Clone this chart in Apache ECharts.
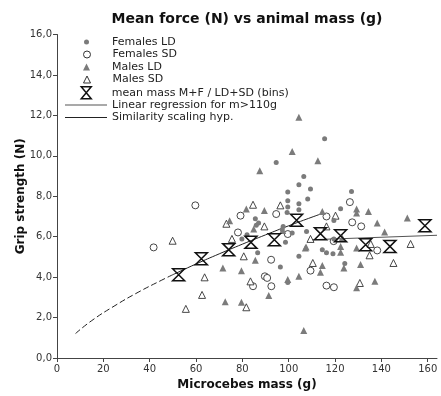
<!DOCTYPE html>
<html><head><meta charset="utf-8">
<script src="https://cdn.jsdelivr.net/npm/echarts@6/dist/echarts.min.js"></script>
<style>html,body{margin:0;padding:0;background:#fff}#c{width:441px;height:396px}</style>
</head><body><div id="c"></div>
<script>
const titleText = 'Mean force (N) vs animal mass (g)';
const xName = 'Microcebes mass (g)';
const yName = 'Grip strength (N)';
const xTicks = [0, 20, 40, 60, 80, 100, 120, 140, 160];
const yTicks = [0, 2, 4, 6, 8, 10, 12, 14, 16];

const femalesLD = [[94.6,9.67],[106.5,8.98],[104.4,8.57],[99.6,8.21],[99.6,7.78],[104.4,7.63],[99.6,7.47],[104.4,7.33],[99.3,7.2],
  [85.6,6.89],[87,6.68],[86,6.56],[97.6,6.51],[97.2,6.35],[101.5,6.18],[82,6.1],[79.8,5.89],[98.6,5.72],[86.6,5.2],[104.4,5.03],
  [96.4,4.5],[99.6,3.74],[115.5,10.84],[109.4,8.36],[108.2,7.86],[127.1,8.24],[122.4,7.38],[119.5,6.8],[107.7,6.26],[119.5,5.89],
  [114.5,5.36],[116.3,5.2],[119.1,5.15],[124.2,4.67]];
const femalesSD = [[59.7,7.55],[79.2,7.04],[41.7,5.47],[78.1,6.21],[94.6,7.12],[99.6,6.13],[92.4,4.86],[89.7,4.04],[90.7,3.96],
  [84.6,3.55],[92.5,3.55],[126.4,7.71],[116.3,7.0],[127.4,6.71],[131.3,6.51],[119.4,5.78],[109.4,4.32],[116.3,3.58],[119.5,3.5],[138.2,5.32]];
const malesLD = [[74.5,6.79],[71.6,4.45],[72.6,2.78],[104.4,11.91],[101.5,10.21],[87.5,9.26],[81.7,7.37],[89.5,7.3],[84.9,6.38],
  [97.4,6.3],[107.2,5.44],[85.6,4.83],[79.6,4.32],[104.4,4.04],[99.6,3.88],[91.4,3.09],[79.6,2.76],[106.5,1.36],[112.6,9.75],
  [129.3,7.37],[129.3,7.17],[134.4,7.25],[114.5,7.25],[123.1,5.94],[122.4,5.52],[107.5,5.49],[129.3,5.44],[122.4,5.23],[114.5,4.57],
  [123.8,4.45],[131,4.62],[113.7,4.24],[129.3,3.47],[138.2,6.68],[151.2,6.92],[141.4,6.23],[137.2,3.79]];
const malesSD = [[73.1,6.64],[49.9,5.8],[75.5,5.89],[63.7,3.99],[62.6,3.12],[55.6,2.43],[84.6,7.58],[96.4,7.55],[89.5,6.51],
  [80.6,5.03],[83.5,3.79],[81.7,2.51],[120.2,7.04],[116.3,6.51],[109.4,5.89],[110.4,4.7],[130.7,3.71],[135.4,5.64],[134.9,5.08],
  [152.6,5.64],[145.2,4.7]];
const meanBins = [[52.5,4.12],[62.3,4.91],[74.1,5.36],[83.7,5.72],[93.8,5.85],[103.4,6.81],[113.7,6.15],[122.4,6.05],[133.2,5.6],
  [143.7,5.52],[158.8,6.54]];
const regression = [[110,5.85],[164,6.07]];
const similarityDashed = [[8,1.21],[15,1.85],[25,2.59],[35,3.25],[45,3.84],[50,4.12]];
const similaritySolid = [[50,4.12],[60,4.65],[70,5.15],[80,5.63],[90,6.09],[100,6.54],[114,7.13]];

const names = ['Females LD','Females SD','Males LD','Males SD','mean mass M+F / LD+SD (bins)','Linear regression for m>110g','Similarity scaling hyp.'];
const hourglass = 'path://M0,0 L10,0 L0,12 L10,12 Z';
const FONT = 'DejaVu Sans';
const gray = '#7b7b7b';
const dark = '#333333';

const iconCx = 86.5, textX = 112;
function leg(i, cy, w, h, icon, itemStyle) {
  const left = i >= 5 ? 65 : iconCx - w / 2;
  const gapTxt = textX - (left + w) - 5;
  const d = { name: names[i], icon: icon, itemStyle: itemStyle };
  return {
    data: [d], left: left, top: cy - 6, orient: 'vertical', itemWidth: w, itemHeight: h, itemGap: 0, padding: 0,
    selectedMode: false,
    textStyle: { fontFamily: FONT, fontSize: 11, color: '#222', lineHeight: 12, height: 12, padding: [0, 0, 0, gapTxt] }
  };
}
const rowTop = 42, step = 12.5;
const legends = [
  leg(0, rowTop, 5, 5, 'circle', { color: gray, borderWidth: 0 }),
  leg(1, rowTop + step, 7, 7, 'circle', { color: '#fff', borderColor: dark, borderWidth: 1 }),
  leg(2, rowTop + 2 * step, 7, 7, 'triangle', { color: gray, borderWidth: 0 }),
  leg(3, rowTop + 3 * step, 7, 7, 'triangle', { color: '#fff', borderColor: dark, borderWidth: 1 }),
  leg(4, rowTop + 4 * step, 12, 12, hourglass, { color: 'rgba(0,0,0,0)', borderColor: '#111', borderWidth: 1.5 }),
  leg(5, rowTop + 5 * step + 0.5, 42, 1, 'rect', { color: '#555', borderWidth: 0 }),
  leg(6, rowTop + 6 * step + 0.5, 42, 1, 'rect', { color: '#222', borderWidth: 0 })
];

const fmt = v => v.toFixed(1).replace('.', ',');

const option = {
  backgroundColor: '#fff',
  animation: false,
  title: { text: titleText, left: 242, top: 7, textAlign: 'center',
    textStyle: { fontFamily: FONT, fontSize: 14, fontWeight: 'bold', color: '#111' } },
  legend: legends,
  grid: { left: 57, right: 4, top: 34.5, bottom: 38 },
  xAxis: {
    type: 'value', min: 0, max: 164,
    name: xName, nameLocation: 'middle', nameGap: 21, nameMoveOverlap: false,
    nameTextStyle: { fontFamily: FONT, fontSize: 12, fontWeight: 'bold', color: '#111' },
    axisLine: { lineStyle: { color: '#444', width: 1 } },
    axisTick: { customValues: xTicks, length: 4, lineStyle: { color: '#444' } },
    axisLabel: { customValues: xTicks, fontFamily: FONT, fontSize: 10, color: '#333', margin: 6 },
    splitLine: { show: false }
  },
  yAxis: {
    type: 'value', min: 0, max: 16, interval: 2,
    name: yName, nameLocation: 'middle', nameGap: 30, nameMoveOverlap: false,
    nameTextStyle: { fontFamily: FONT, fontSize: 12, fontWeight: 'bold', color: '#111' },
    axisLine: { show: true, lineStyle: { color: '#444', width: 1 } },
    axisTick: { show: true, length: 4, lineStyle: { color: '#444' } },
    axisLabel: { formatter: fmt, fontFamily: FONT, fontSize: 10, color: '#333', margin: 5 },
    splitLine: { show: false }
  },
  series: [
    { name: 'sim-dash', type: 'line', data: similarityDashed, smooth: true, showSymbol: false, symbol: 'none',
      lineStyle: { color: '#222', width: 1, type: [6, 3] }, z: 1 },
    { name: names[6], type: 'line', data: similaritySolid, smooth: true, showSymbol: false, symbol: 'none',
      lineStyle: { color: '#222', width: 1 }, itemStyle: { color: '#222' }, z: 1 },
    { name: names[5], type: 'line', data: regression, showSymbol: false, symbol: 'none',
      lineStyle: { color: '#555', width: 1 }, itemStyle: { color: '#555' }, z: 1 },
    { name: names[0], type: 'scatter', data: femalesLD, symbol: 'circle', symbolSize: 5,
      itemStyle: { color: gray, opacity: 1 }, z: 3 },
    { name: names[1], type: 'scatter', data: femalesSD, symbol: 'circle', symbolSize: 7,
      itemStyle: { color: '#fff', borderColor: dark, borderWidth: 0.9, opacity: 1 }, z: 2 },
    { name: names[2], type: 'scatter', data: malesLD, symbol: 'triangle', symbolSize: 7,
      itemStyle: { color: gray, opacity: 1 }, z: 3 },
    { name: names[3], type: 'scatter', data: malesSD, symbol: 'triangle', symbolSize: 7,
      itemStyle: { color: '#fff', borderColor: dark, borderWidth: 0.9, opacity: 1 }, z: 2 },
    { name: names[4], type: 'scatter', data: meanBins, symbol: hourglass, symbolSize: [12, 12],
      itemStyle: { color: 'rgba(0,0,0,0)', borderColor: '#111', borderWidth: 1.5, opacity: 1 }, z: 4 }
  ]
};
const chart = echarts.init(document.getElementById('c'), null, { renderer: 'canvas' });
chart.setOption(option);
</script>
</body></html>
